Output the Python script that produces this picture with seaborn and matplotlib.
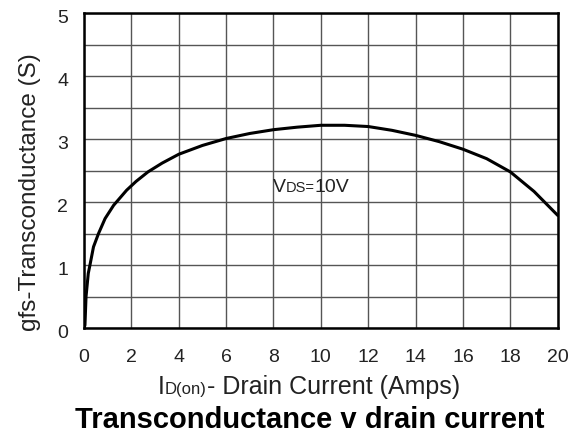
import matplotlib
matplotlib.use("Agg")
import matplotlib.pyplot as plt
import matplotlib.transforms as mtransforms
from matplotlib.offsetbox import TextArea, HPacker, AnnotationBbox
import seaborn as sns
import numpy as np
import pandas as pd

# Data
drain_current = [0, 0.04, 0.085, 0.18, 0.25, 0.4, 0.61, 0.89, 1.25, 1.8, 2.2, 2.7, 3.3, 4,
                 5, 6, 7, 8, 9, 10, 11, 12, 13, 14, 15, 16, 17, 18, 19, 20]
transconductance = [0, 0.05, 0.5, 0.87, 1.0, 1.29, 1.5, 1.74, 1.95, 2.19, 2.33, 2.48, 2.62,
                    2.76, 2.9, 3.01, 3.09, 3.15, 3.19, 3.22, 3.22, 3.20, 3.14, 3.06, 2.96,
                    2.84, 2.69, 2.48, 2.17, 1.79]
x_ticks = [0, 2, 4, 6, 8, 10, 12, 14, 16, 18, 20]
y_ticks = [0, 1, 2, 3, 4, 5]

sns.set_style("white")
plt.rcParams['font.family'] = ['Liberation Sans', 'DejaVu Sans']

df = pd.DataFrame({"I": drain_current, "g": transconductance})

fig = plt.figure(figsize=(5.77, 4.37), dpi=100)
ax = fig.add_axes([0.1456, 0.249, 0.821, 0.721])

sns.lineplot(data=df, x="I", y="g", ax=ax, color="black", lw=2.2, sort=False)

ax.set_xlim(0, 20)
ax.set_ylim(0, 5)
ax.set_xticks(x_ticks)
ax.set_xticklabels([str(t) for t in x_ticks])
ax.set_yticks(y_ticks)
ax.set_yticklabels([str(t) for t in y_ticks])
ax.set_yticks(np.arange(0.5, 5, 1.0), minor=True)
ax.grid(True, which="both", color="#555555", lw=1.0)
ax.set_axisbelow(True)
ax.tick_params(axis="both", which="both", length=0, labelsize=14, colors="#222222")
ax.tick_params(axis="x", pad=15)
ax.tick_params(axis="y", pad=11.5)
offset = mtransforms.ScaledTranslation(0, -3 / 100, fig.dpi_scale_trans)
for lab in ax.get_yticklabels():
    lab.set_transform(lab.get_transform() + offset)
for s in ax.spines.values():
    s.set_visible(True)
    s.set_color("black")
    s.set_linewidth(1.8)

ax.set_xlabel("")
ax.set_ylabel("")
fig.text(30 / 577, 1 - 192 / 437, "gfs-Transconductance (S)", fontsize=17.5, color="#222222",
         rotation=90, ha="center", va="center")


def mixed(parts):
    areas = [TextArea(t, textprops=dict(fontsize=fs, color="#222222")) for t, fs in parts]
    return HPacker(children=areas, align="baseline", pad=0, sep=0)


# Annotation V_DS=10V
ab = AnnotationBbox(mixed([("V", 14), ("DS=", 10.5), ("10V", 14)]), (7.97, 2.24),
                    xycoords="data", box_alignment=(0, 0.5), frameon=False, pad=0)
ax.add_artist(ab)

# X label I_D(on)- Drain Current (Amps)
xl = AnnotationBbox(mixed([("I", 18), ("D(on)", 12), ("- Drain Current (Amps)", 18)]),
                    (158 / 577, 1 - 387 / 437), xycoords="figure fraction",
                    box_alignment=(0, 0.5), frameon=False, pad=0, annotation_clip=False)
fig.add_artist(xl)

fig.text(310 / 577, 1 - 428 / 437, "Transconductance v drain current", fontsize=21,
         fontweight="bold", color="black", ha="center", va="baseline")

fig.savefig("out.png", dpi=100)
